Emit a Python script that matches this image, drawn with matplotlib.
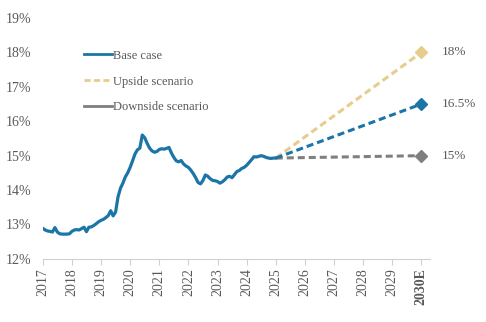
import numpy as np
import matplotlib.pyplot as plt
from matplotlib.lines import Line2D

# Monthly history, Jan 2017 .. Jan 2025 (percent)
base_hist = [
    12.89, 12.84, 12.81, 12.80, 12.78, 12.91, 12.78, 12.73, 12.72, 12.72, 12.72, 12.73,
    12.80, 12.84, 12.85, 12.84, 12.88, 12.92, 12.79, 12.92, 12.93, 12.97, 13.02, 13.08,
    13.12, 13.15, 13.20, 13.26, 13.40, 13.25, 13.36, 13.80, 14.05, 14.20, 14.38, 14.50,
    14.66, 14.85, 15.05, 15.17, 15.22, 15.60, 15.52, 15.36, 15.22, 15.14, 15.10, 15.12,
    15.18, 15.20, 15.19, 15.21, 15.24, 15.08, 14.95, 14.85, 14.82, 14.86, 14.76, 14.70,
    14.66, 14.58, 14.48, 14.36, 14.22, 14.18, 14.28, 14.44, 14.40, 14.33, 14.28, 14.27,
    14.25, 14.20, 14.24, 14.30, 14.38, 14.40, 14.36, 14.45, 14.54, 14.57, 14.63, 14.66,
    14.72, 14.80, 14.88, 14.97, 14.96, 14.98, 15.00, 14.98, 14.95, 14.93, 14.92, 14.93,
    14.93,
]
hist_x = 2017 + np.arange(len(base_hist)) / 12.0

# Scenario paths 2025 -> 2030E
proj_years = [2025, 2030]
base_proj = [14.93, 16.5]
upside_proj = [14.93, 18.0]
downside_proj = [14.93, 15.0]
end_labels = ["16.5%", "18%", "15%"]

years = list(range(2017, 2031))
year_labels = [str(y) for y in years[:-1]] + ["2030E"]

blue = "#1B75A6"
tan = "#E6CD8C"
grey = "#7F7F7F"
txt = "#595959"
dash = (0, (2.3, 1.3))

plt.rcParams['font.family'] = ['Liberation Serif', 'DejaVu Serif']

fig = plt.figure(figsize=(4.86, 3.22), dpi=100)
ax = fig.add_axes([0.088, 0.196, 0.797, 0.748])

ax.plot(hist_x, base_hist, color=blue, lw=2.3, solid_capstyle='round', zorder=4)
ax.plot(proj_years, upside_proj, color=tan, lw=2.2, ls=dash, zorder=2)
ax.plot(proj_years, base_proj, color=blue, lw=2.2, ls=dash, zorder=3)
ax.plot(proj_years, downside_proj, color=grey, lw=2.2, ls=dash, zorder=2)

for vals, col, lab in [(base_proj, blue, end_labels[0]),
                       (upside_proj, tan, end_labels[1]),
                       (downside_proj, grey, end_labels[2])]:
    ax.plot(proj_years[-1], vals[-1], marker='D', ms=6.5, color=col, zorder=5)
    ax.annotate(lab, (proj_years[-1], vals[-1]), xytext=(15, 0),
                textcoords='offset points', va='center', ha='left',
                fontsize=9.5, color=txt, annotation_clip=False)

ax.set_xlim(2017, 2030.3)
ax.set_ylim(12, 19)
ax.set_yticks(np.arange(12, 20, 1))
ax.set_yticklabels([f"{v}%" for v in range(12, 20)])
ax.set_xticks(years)
ax.set_xticklabels(year_labels, rotation=90)
ax.get_xticklabels()[-1].set_fontweight('bold')

for s in ['top', 'right', 'left']:
    ax.spines[s].set_visible(False)
ax.spines['bottom'].set_color('#D0D0D0')
ax.tick_params(axis='y', length=0, labelsize=10, colors=txt, pad=8)
ax.tick_params(axis='x', length=4, color='#D0D0D0', labelsize=10, labelcolor=txt, pad=3)

handles = [
    Line2D([], [], color=blue, lw=2.0),
    Line2D([], [], color=tan, lw=2.0, ls=(0, (2.2, 1.2))),
    Line2D([], [], color=grey, lw=2.0),
]
leg = ax.legend(handles, ["Base case", "Upside scenario", "Downside scenario"],
                loc='upper left', bbox_to_anchor=(0.078, 0.915), frameon=False,
                fontsize=9, handlelength=2.2, handletextpad=0.1, labelspacing=1.1)
for t in leg.get_texts():
    t.set_color(txt)

fig.savefig("out.png", dpi=100, facecolor='white')
